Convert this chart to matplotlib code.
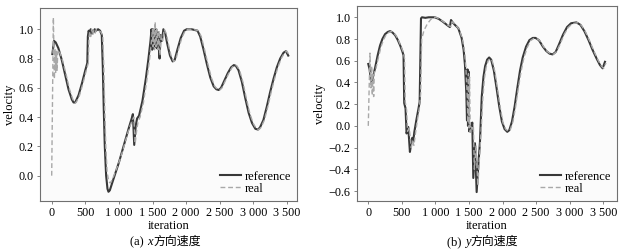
import numpy as np
import matplotlib
matplotlib.use("Agg")
import matplotlib.pyplot as plt

# %% data: (iteration, velocity)

x_ref = [(10, 0.83), (35, 0.92), (60, 0.91), (100, 0.87), (150, 0.79), (200, 0.69),
         (250, 0.59), (300, 0.52), (325, 0.50), (350, 0.50), (400, 0.55), (450, 0.63),
         (500, 0.72), (530, 0.77), (538, 0.95), (550, 0.99), (565, 0.97), (580, 1.0),
         (595, 0.97), (610, 0.99), (625, 0.98), (640, 1.0), (660, 0.99), (690, 1.0),
         (720, 0.99), (745, 0.96), (760, 0.75), (775, 0.45), (790, 0.2), (810, 0.0),
         (830, -0.09), (845, -0.11), (865, -0.10), (900, -0.05), (950, 0.02), (1000, 0.09),
         (1050, 0.17), (1100, 0.25), (1150, 0.33), (1190, 0.39), (1208, 0.42), (1228, 0.21),
         (1250, 0.34), (1270, 0.39), (1300, 0.41), (1350, 0.51), (1400, 0.66), (1440, 0.80),
         (1470, 0.92), (1485, 1.0), (1495, 0.86), (1505, 1.0), (1515, 0.87), (1525, 0.99),
         (1540, 0.88), (1550, 1.0), (1565, 0.87), (1580, 0.98), (1595, 0.90), (1605, 0.80),
         (1620, 0.96), (1640, 0.92), (1662, 1.0), (1690, 0.97), (1720, 0.90), (1760, 0.82),
         (1800, 0.78), (1830, 0.79), (1870, 0.86), (1920, 0.94), (1970, 0.99), (2010, 1.0),
         (2080, 1.0), (2170, 0.99), (2210, 0.95), (2260, 0.86), (2310, 0.76), (2360, 0.67),
         (2410, 0.61), (2450, 0.59), (2485, 0.585), (2520, 0.60), (2570, 0.65), (2620, 0.70),
         (2670, 0.74), (2710, 0.755), (2740, 0.75), (2780, 0.72), (2830, 0.64), (2880, 0.53),
         (2930, 0.43), (2980, 0.36), (3030, 0.32), (3070, 0.315), (3100, 0.33), (3150, 0.38),
         (3200, 0.47), (3250, 0.57), (3300, 0.66), (3350, 0.74), (3400, 0.80), (3450, 0.84),
         (3485, 0.85), (3520, 0.82)]

x_real = [(0, 0.0), (25, 1.08), (40, 0.66), (50, 0.86), (60, 0.70), (70, 0.85), (80, 0.72),
          (90, 0.84), (105, 0.86), (160, 0.79), (215, 0.69), (265, 0.59), (315, 0.52),
          (340, 0.50), (365, 0.50), (415, 0.55), (465, 0.63), (515, 0.72), (545, 0.77),
          (553, 0.93), (565, 0.98), (580, 0.95), (595, 1.0), (610, 0.96), (625, 0.99),
          (645, 0.97), (665, 1.0), (700, 0.99), (735, 0.98), (760, 0.95), (775, 0.75),
          (790, 0.45), (805, 0.2), (825, 0.02), (850, -0.04), (870, -0.05), (900, -0.03),
          (950, 0.03), (1000, 0.09), (1050, 0.16), (1100, 0.24), (1150, 0.32), (1200, 0.38),
          (1222, 0.40), (1242, 0.22), (1262, 0.30), (1285, 0.37), (1315, 0.40), (1365, 0.50),
          (1415, 0.65), (1455, 0.79), (1485, 0.92), (1500, 1.0), (1510, 0.88), (1520, 1.0),
          (1530, 0.86), (1540, 1.05), (1553, 0.88), (1568, 1.0), (1583, 0.86), (1598, 0.99),
          (1612, 0.82), (1628, 0.96), (1650, 0.92), (1675, 1.0), (1705, 0.97), (1735, 0.90),
          (1775, 0.82), (1815, 0.78), (1845, 0.79), (1885, 0.86), (1935, 0.94), (1985, 0.99),
          (2025, 1.0), (2095, 1.0), (2185, 0.99), (2225, 0.95), (2275, 0.86), (2325, 0.76),
          (2375, 0.67), (2425, 0.61), (2465, 0.59), (2500, 0.585), (2535, 0.60), (2585, 0.65),
          (2635, 0.70), (2685, 0.74), (2725, 0.755), (2755, 0.75), (2795, 0.72), (2845, 0.64),
          (2895, 0.53), (2945, 0.43), (2995, 0.36), (3045, 0.32), (3085, 0.315), (3115, 0.33),
          (3165, 0.38), (3215, 0.47), (3265, 0.57), (3315, 0.66), (3365, 0.74), (3415, 0.80),
          (3465, 0.84), (3500, 0.85), (3535, 0.82)]

y_ref = [(0, 0.57), (20, 0.52), (45, 0.39), (70, 0.45), (100, 0.53), (140, 0.65), (175, 0.74),
         (210, 0.80), (250, 0.845), (290, 0.865), (325, 0.873), (360, 0.86), (400, 0.835),
         (440, 0.79), (475, 0.74), (505, 0.69), (525, 0.65), (535, 0.21), (555, 0.16),
         (570, -0.07), (595, -0.01), (620, -0.24), (640, -0.16), (655, -0.11), (670, -0.14),
         (685, -0.06), (715, 0.05), (745, 0.15), (765, 0.22), (785, 0.99), (800, 1.0),
         (850, 0.995), (900, 1.0), (990, 1.0), (1050, 0.985), (1110, 0.96), (1170, 0.93),
         (1215, 0.91), (1232, 0.975), (1260, 0.95), (1290, 0.93), (1340, 0.90), (1390, 0.81),
         (1420, 0.70), (1440, 0.56), (1460, 0.30), (1470, 0.05), (1478, 0.52), (1485, 0.0),
         (1493, 0.50), (1502, -0.05), (1515, 0.0), (1530, -0.02), (1549, 0.03), (1564, -0.48),
         (1589, -0.16), (1614, -0.61), (1640, -0.35), (1663, -0.15), (1690, 0.27), (1715, 0.45),
         (1740, 0.55), (1770, 0.61), (1800, 0.63), (1830, 0.61), (1870, 0.51), (1910, 0.35),
         (1950, 0.18), (1990, 0.04), (2030, -0.03), (2070, -0.055), (2100, -0.04), (2140, 0.04),
         (2180, 0.18), (2220, 0.35), (2260, 0.51), (2300, 0.63), (2350, 0.73), (2400, 0.79),
         (2450, 0.81), (2490, 0.81), (2540, 0.79), (2600, 0.73), (2650, 0.69), (2700, 0.665),
         (2745, 0.658), (2790, 0.68), (2840, 0.75), (2900, 0.84), (2960, 0.91), (3020, 0.945),
         (3100, 0.953), (3160, 0.93), (3220, 0.87), (3280, 0.79), (3340, 0.70), (3400, 0.62),
         (3450, 0.56), (3490, 0.53), (3525, 0.59)]

y_real = [(0, 0.0), (25, 0.67), (40, 0.35), (50, 0.55), (60, 0.28), (70, 0.47), (80, 0.27),
          (90, 0.50), (110, 0.52), (155, 0.64), (190, 0.73), (225, 0.79), (265, 0.84),
          (305, 0.86), (340, 0.87), (375, 0.86), (415, 0.83), (455, 0.78), (490, 0.73),
          (520, 0.68), (540, 0.62), (550, 0.22), (570, 0.15), (585, -0.05), (610, -0.02),
          (640, -0.20), (660, -0.14), (680, -0.18), (700, -0.08), (730, 0.05), (760, 0.16),
          (780, 0.30), (795, 0.80), (830, 0.88), (880, 0.94), (930, 0.98), (970, 1.0),
          (1010, 1.0), (1070, 0.98), (1130, 0.955), (1190, 0.925), (1230, 0.915), (1247, 0.96),
          (1275, 0.945), (1305, 0.925), (1355, 0.89), (1405, 0.79), (1435, 0.68), (1455, 0.52),
          (1475, 0.26), (1485, 0.03), (1492, 0.48), (1500, -0.02), (1508, 0.45), (1518, -0.06),
          (1530, -0.01), (1546, -0.03), (1565, 0.0), (1580, -0.40), (1605, -0.18), (1632, -0.55),
          (1655, -0.3), (1680, -0.05), (1705, 0.25), (1730, 0.44), (1755, 0.54), (1785, 0.60),
          (1815, 0.62), (1845, 0.60), (1885, 0.50), (1925, 0.34), (1965, 0.17), (2005, 0.03),
          (2045, -0.03), (2085, -0.05), (2115, -0.035), (2155, 0.04), (2195, 0.18), (2235, 0.35),
          (2275, 0.50), (2315, 0.62), (2365, 0.72), (2415, 0.785), (2465, 0.805), (2505, 0.805),
          (2555, 0.785), (2615, 0.725), (2665, 0.685), (2715, 0.665), (2760, 0.66), (2805, 0.685),
          (2855, 0.75), (2915, 0.84), (2975, 0.905), (3035, 0.94), (3115, 0.95), (3175, 0.925),
          (3235, 0.865), (3295, 0.785), (3355, 0.695), (3415, 0.615), (3465, 0.555), (3505, 0.53),
          (3540, 0.58)]

xticks = [0, 500, 1000, 1500, 2000, 2500, 3000, 3500]
xticklabels = ["0", "500", "1 000", "1 500", "2 000", "2 500", "3 000", "3 500"]
left_yticks = [0.0, 0.2, 0.4, 0.6, 0.8, 1.0]
right_yticks = [-0.6, -0.4, -0.2, 0.0, 0.2, 0.4, 0.6, 0.8, 1.0]

# %% style

plt.rcParams['font.family'] = ['Liberation Serif', 'Noto Sans CJK SC']
FS = 9

SOLID = '#383838'
DASH = '#a8a8a8'
FRAME = '#707070'
W, H = 630, 252

fig = plt.figure(figsize=(6.3, 2.52), dpi=100)
ax1 = fig.add_axes([40 / W, 1 - 201 / H, 257 / W, 193 / H])
ax2 = fig.add_axes([357 / W, 1 - 201 / H, 260 / W, 195 / H])


def draw(ax, ref, real, xlim, ylim, yticks):
    rx, ry = np.array(ref).T
    qx, qy = np.array(real).T
    ax.plot(rx, ry, color=SOLID, lw=1.5, label='reference', zorder=3)
    ax.plot(qx, qy, color=DASH, lw=1.0, ls=(0, (3.5, 2)), label='real', zorder=4)
    ax.set_xlim(*xlim)
    ax.set_ylim(*ylim)
    ax.set_xticks(xticks)
    ax.set_xticklabels(xticklabels)
    ax.set_yticks(yticks)
    ax.set_yticklabels(['%.1f' % v if v >= 0 else '\u2212%.1f' % -v for v in yticks])
    ax.set_facecolor('#fbfbfb')
    for s in ax.spines.values():
        s.set_color(FRAME)
        s.set_linewidth(0.8)
    ax.tick_params(length=2.5, width=0.6, color=FRAME, pad=2, labelsize=FS - 0.3)
    ax.set_xlabel('iteration', labelpad=0.5, fontsize=FS)
    ax.set_ylabel('velocity', labelpad=2, fontsize=FS)
    ax.legend(loc='lower right', frameon=False, handlelength=1.7, handletextpad=0.25,
              labelspacing=0.0, borderaxespad=0.1, fontsize=FS)


draw(ax1, x_ref, x_real, (-174, 3650), (-0.173, 1.145), left_yticks)
draw(ax2, y_ref, y_real, (-168, 3704), (-0.692, 1.104), right_yticks)

# captions "(a) x方向速度", variable in italics, pieces laid out on a shared baseline
captions = [(('(a) ', 'normal', 'Liberation Serif', FS), ('x', 'italic', 'Liberation Serif', FS),
             ('方向速度', 'normal', 'Noto Sans CJK SC', 8.6)),
            (('(b) ', 'normal', 'Liberation Serif', FS), ('y', 'italic', 'Liberation Serif', FS),
             ('方向速度', 'normal', 'Noto Sans CJK SC', 8.6))]
centres = [165, 482]
base_y = 1 - 245 / H

fig.canvas.draw()
r = fig.canvas.get_renderer()
for parts, cx in zip(captions, centres):
    texts = [fig.text(0, base_y, s, style=st, family=fam, fontsize=fs, va='baseline')
             for s, st, fam, fs in parts]
    widths = [t.get_window_extent(r).width for t in texts]
    x = cx - sum(widths) / 2
    for t, w in zip(texts, widths):
        t.set_x(x / W)
        x += w + 0.5

fig.savefig('out.png', dpi=100)
